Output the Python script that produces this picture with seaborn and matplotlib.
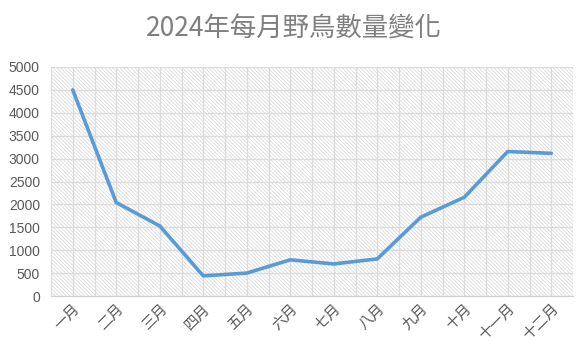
import matplotlib
matplotlib.use("Agg")
import matplotlib.pyplot as plt
import seaborn as sns
import pandas as pd
import numpy as np

months = ["一月", "二月", "三月", "四月", "五月", "六月", "七月", "八月", "九月", "十月", "十一月", "十二月"]
counts = [4500, 2040, 1530, 440, 500, 790, 700, 810, 1720, 2155, 3155, 3115]
yticks = [0, 500, 1000, 1500, 2000, 2500, 3000, 3500, 4000, 4500, 5000]
title = "2024年每月野鳥數量變化"

sns.set_style("white")
plt.rcParams['font.family'] = ['Noto Sans CJK TC', 'DejaVu Sans']
plt.rcParams['hatch.color'] = '#d6d6d6'
plt.rcParams['hatch.linewidth'] = 0.5

df = pd.DataFrame({"month": months, "count": counts, "idx": np.arange(len(months))})

fig = plt.figure(figsize=(5.87, 3.61), dpi=100)
ax = fig.add_axes([51/587, 65/361, (573-51)/587, (296-67)/361])
ax.patch.set_facecolor('white')
ax.patch.set_hatch('\\' * 9)
ax.patch.set_edgecolor('#d6d6d6')

sns.lineplot(data=df, x="idx", y="count", ax=ax, color="#5B9BD5", linewidth=2.6, zorder=5)

ax.set_xlim(-0.5, len(months) - 0.5)
ax.set_ylim(0, 5000)
ax.set_yticks(yticks)
ax.set_yticklabels([str(v) for v in yticks], fontsize=10, color='#595959', family=['Liberation Sans', 'DejaVu Sans'])
ax.set_xticks(np.arange(len(months)))
ax.set_xticklabels(months, rotation=45, ha='right', va='top', rotation_mode='anchor', fontsize=10.5, color='#595959')
ax.set_xticks(np.arange(-0.5, len(months), 1.0), minor=True)
ax.tick_params(axis='both', which='both', length=0)
ax.tick_params(axis='y', pad=8)
ax.tick_params(axis='x', pad=4)

ax.grid(True, which='major', axis='both', color='#dcdcdc', linewidth=0.9)
ax.grid(True, which='minor', axis='x', color='#dcdcdc', linewidth=0.9)
ax.set_axisbelow(True)
for s in ['top', 'right', 'left']:
    ax.spines[s].set_visible(False)
ax.spines['bottom'].set_color('#d0d0d0')
ax.set_xlabel('')
ax.set_ylabel('')

fig.text(294/587, 1 - 29/361, title, ha='center', va='center', fontsize=19, color='#7f7f7f')

fig.savefig("out.png", dpi=100)
